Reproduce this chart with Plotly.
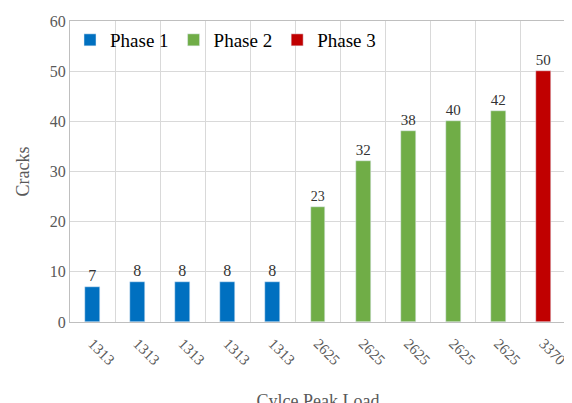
import plotly.graph_objects as go

labels = ["1313"]*5 + ["2625"]*5 + ["3370"]
values = [7, 8, 8, 8, 8, 23, 32, 38, 40, 42, 50]
phases = ["Phase 1"]*5 + ["Phase 2"]*5 + ["Phase 3"]
colors = {"Phase 1": "#0070C0", "Phase 2": "#70AD47", "Phase 3": "#C00000"}

fig = go.Figure()
for ph in ["Phase 1", "Phase 2", "Phase 3"]:
    xs = [i for i, p in enumerate(phases) if p == ph]
    ys = [values[i] for i in xs]
    fig.add_bar(x=xs, y=ys, name=ph, marker_color=colors[ph], width=0.33,
                text=[str(v) for v in ys],
                textposition="outside", textfont=dict(size=16, color="#333"),
                cliponaxis=False)

font = "Liberation Serif, Times New Roman, serif"
fig.update_layout(
    width=572, height=403, margin=dict(l=62, r=14, t=13, b=89, autoexpand=False),
    plot_bgcolor="white", paper_bgcolor="white",
    font=dict(family=font, size=15, color="#595959"),
    legend=dict(orientation="h", x=0.0, y=1.0, xanchor="left", yanchor="top",
                bgcolor="rgba(255,255,255,0)", font=dict(size=19, color="#000"),
                itemwidth=30),
    showlegend=True,
    bargap=0,
    uniformtext=dict(minsize=16),
)
fig.update_xaxes(range=[-0.5, 10.5], tickvals=list(range(11)), ticktext=labels,
                 tickangle=45, showgrid=False, showline=True, linecolor="#bfbfbf",
                 automargin=False, ticklabelstandoff=6,
                 tickfont=dict(size=15, color="#595959"),
                 minor=dict(tick0=0.5, dtick=1, showgrid=True, gridcolor="#d9d9d9"),
                 title=dict(text="Cylce Peak Load", font=dict(size=18, color="#595959"), standoff=30))
fig.update_yaxes(range=[0, 60], dtick=10, showgrid=True, gridcolor="#d9d9d9",
                 showline=True, linecolor="#bfbfbf", mirror=True, zeroline=False,
                 automargin=False,
                 tickfont=dict(size=16, color="#595959"),
                 title=dict(text="Cracks", font=dict(size=18, color="#595959")))
fig.update_xaxes(mirror=True)
fig.write_html("out.html")
